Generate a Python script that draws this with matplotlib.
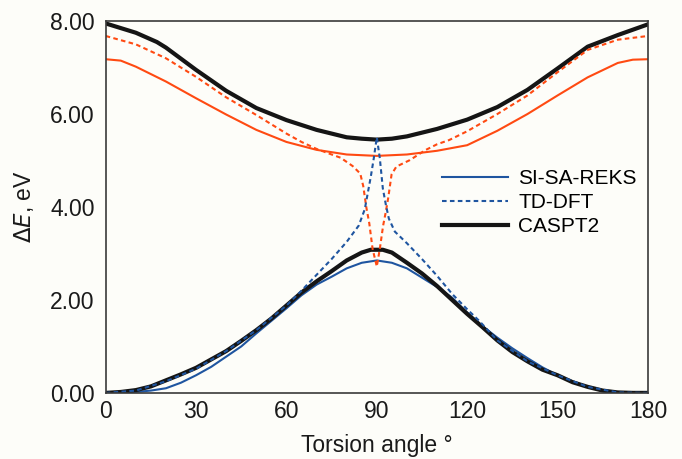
import numpy as np
import matplotlib
matplotlib.use("Agg")
import matplotlib.pyplot as plt
from matplotlib.lines import Line2D

plt.rcParams['font.family'] = ['Liberation Sans', 'DejaVu Sans']

# CASPT2 (black, thick)
caspt2_up_x = [0, 10, 17, 20, 30, 40, 50, 60, 70, 80, 85, 90, 95, 100, 110, 120, 130, 140, 150, 160, 170, 180]
caspt2_up_y = [7.95, 7.75, 7.55, 7.43, 6.95, 6.50, 6.13, 5.87, 5.66, 5.50, 5.47, 5.45, 5.47, 5.52, 5.68, 5.88, 6.15, 6.52, 6.98, 7.45, 7.70, 7.93]
caspt2_lo_x = [0, 5, 10, 15, 20, 25, 30, 35, 40, 45, 50, 55, 60, 65, 70, 75, 80, 85, 88, 92, 95, 100, 105, 110, 115, 120,
               125, 130, 135, 140, 145, 150, 155, 160, 165, 170, 175, 180]
caspt2_lo_y = [0.0, 0.02, 0.06, 0.14, 0.27, 0.40, 0.54, 0.72, 0.90, 1.12, 1.35, 1.60, 1.88, 2.16, 2.40, 2.62, 2.85, 3.02, 3.08,
               3.08, 3.02, 2.80, 2.57, 2.30, 2.00, 1.70, 1.42, 1.13, 0.88, 0.68, 0.50, 0.38, 0.23, 0.13, 0.05, 0.01, 0.0, 0.0]

# SI-SA-REKS (solid)
reks_up_x = [0, 5, 10, 20, 30, 40, 50, 60, 70, 80, 90, 100, 110, 120, 130, 140, 150, 160, 170, 175, 180]
reks_up_y = [7.18, 7.15, 7.02, 6.70, 6.34, 5.99, 5.66, 5.40, 5.23, 5.13, 5.10, 5.13, 5.21, 5.33, 5.64, 6.00, 6.40, 6.79, 7.10, 7.17, 7.18]
reks_lo_x = [0, 5, 10, 15, 20, 25, 30, 35, 40, 45, 50, 55, 60, 65, 70, 75, 80, 85, 90, 95, 100, 105, 110, 115, 120,
             125, 130, 135, 140, 145, 150, 155, 160, 165, 170, 175, 180]
reks_lo_y = [0.0, 0.0, 0.02, 0.05, 0.10, 0.22, 0.38, 0.56, 0.78, 1.00, 1.28, 1.55, 1.82, 2.10, 2.33, 2.50, 2.68, 2.80, 2.85,
             2.80, 2.68, 2.48, 2.28, 2.05, 1.73, 1.44, 1.19, 0.96, 0.75, 0.55, 0.38, 0.25, 0.13, 0.04, 0.01, 0.0, 0.0]

# TD-DFT (dotted)
tddft_up_x = [0, 10, 20, 30, 40, 50, 60, 65, 70, 75, 78, 82, 84.5, 85.5, 86.5, 87.5, 88.6, 90, 91, 92.1, 93, 93.8, 94.9,
              96.5, 101, 106, 110, 114, 120, 130, 140, 150, 160, 170, 180]
tddft_up_y = [7.68, 7.50, 7.20, 6.80, 6.36, 5.98, 5.58, 5.40, 5.25, 5.13, 5.06, 4.88, 4.72, 4.45, 4.00, 3.65, 3.10, 2.72, 3.10,
              3.60, 3.90, 4.20, 4.70, 4.87, 5.01, 5.22, 5.35, 5.44, 5.63, 6.00, 6.40, 6.90, 7.38, 7.60, 7.68]
tddft_lo_x = [0, 10, 20, 30, 40, 50, 60, 65, 70, 75, 80, 84, 86, 87, 88, 89, 90, 91, 92, 93, 94, 96, 100, 105, 110, 115,
              120, 124, 130, 140, 150, 160, 170, 180]
tddft_lo_y = [0.0, 0.05, 0.25, 0.52, 0.90, 1.35, 1.88, 2.20, 2.54, 2.88, 3.25, 3.60, 3.95, 4.30, 4.65, 5.05, 5.50, 5.05, 4.40,
              4.05, 3.75, 3.47, 3.22, 2.88, 2.52, 2.13, 1.80, 1.55, 1.13, 0.68, 0.38, 0.13, 0.01, 0.0]

x_ticks = [0, 30, 60, 90, 120, 150, 180]
y_ticks = [0, 2, 4, 6, 8]
legend_labels = ['SI-SA-REKS', 'TD-DFT', 'CASPT2']

ORANGE = '#ff4a12'
BLUE = '#1f55a0'
BLACK = '#151515'
BG = '#fdfdf9'
dots = (0, (2.2, 1.6))
FS = 16.5

fig = plt.figure(figsize=(6.82, 4.59), dpi=100, facecolor=BG)
ax = fig.add_axes([0.155, 0.144, 0.795, 0.810], facecolor=BG)

# colored solid lines
ax.plot(reks_up_x, reks_up_y, color=ORANGE, lw=1.5)
ax.plot(reks_lo_x, reks_lo_y, color=BLUE, lw=1.5)
# black reference
ax.plot(caspt2_up_x, caspt2_up_y, color=BLACK, lw=3.0)
ax.plot(caspt2_lo_x, caspt2_lo_y, color=BLACK, lw=3.0)
# dotted on top
ax.plot(tddft_up_x, tddft_up_y, color=ORANGE, lw=1.5, ls=dots)
ax.plot(tddft_lo_x, tddft_lo_y, color=BLUE, lw=1.5, ls=dots)

ax.set_xlim(0, 180)
ax.set_ylim(0, 8)
ax.set_xticks(x_ticks)
ax.set_yticks(y_ticks)
ax.set_yticklabels(['%.2f' % v for v in y_ticks])
ax.tick_params(length=0, labelsize=FS, colors='#1a1a1a')
ax.tick_params(axis='x', pad=5)
ax.tick_params(axis='y', pad=8)
for s in ax.spines.values():
    s.set_color('#3a3a3a')
    s.set_linewidth(1.2)

ax.set_xlabel('Torsion angle \u00b0', fontsize=FS, color='#1a1a1a', labelpad=8)
ax.set_ylabel('$\\Delta$$\\it{E}$, eV', fontsize=FS, color='#1a1a1a', labelpad=10)

handles = [Line2D([], [], color=BLUE, lw=1.5),
           Line2D([], [], color=BLUE, lw=1.5, ls=dots),
           Line2D([], [], color=BLACK, lw=3.0)]
ax.legend(handles, legend_labels, loc='upper left',
          bbox_to_anchor=(442 / 682, 1 - 169 / 459), bbox_transform=fig.transFigure,
          frameon=False, fontsize=15, handlelength=3.17, handletextpad=0.48,
          labelspacing=0.25, borderpad=0, borderaxespad=0)

fig.savefig('out.png', dpi=100, facecolor=BG)
